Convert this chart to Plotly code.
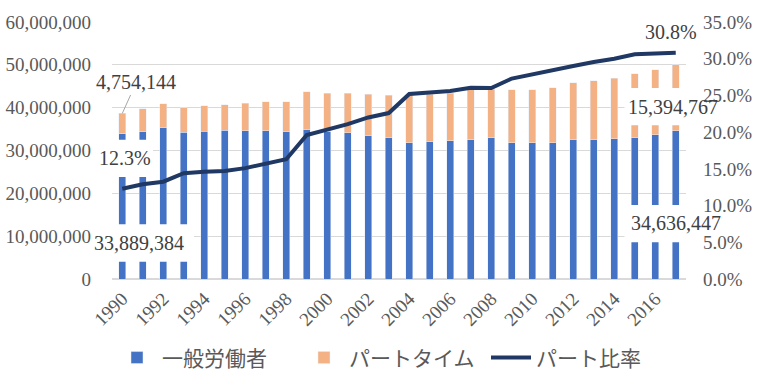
import plotly.graph_objects as go

years = list(range(1990, 2018))
general = [33889384, 34400000, 35350000, 34300000, 34500000, 34700000, 34650000,
           34600000, 34350000, 34800000, 34400000, 34200000, 33500000, 33000000,
           31850000, 32100000, 32300000, 32550000, 33000000, 31850000, 31850000,
           31800000, 32550000, 32550000, 32800000, 33000000, 33700000, 34636447]
part = [4754144, 5400000, 5550000, 5700000, 5900000, 5950000, 6400000,
        6750000, 7000000, 8900000, 9000000, 9200000, 9650000, 9900000,
        11150000, 11050000, 11100000, 11750000, 11300000, 12350000, 12350000,
        12800000, 13250000, 13750000, 14100000, 14900000, 15100000, 15394767]
ratio = [0.123, 0.129, 0.1325, 0.144, 0.146, 0.147, 0.151, 0.157, 0.163, 0.196,
         0.203, 0.211, 0.220, 0.226, 0.252, 0.254, 0.256, 0.2605, 0.260, 0.273,
         0.279, 0.285, 0.290, 0.2955, 0.300, 0.306, 0.3075, 0.308]
tick_years = list(range(1990, 2017, 2))
names = ["一般労働者", "パートタイム", "パート比率"]

FONT = "Liberation Serif, Noto Sans CJK JP, serif"
GREY = "#595959"

fig = go.Figure()
fig.add_trace(go.Bar(x=years, y=general, name=names[0], marker_color="#4472C4",
                     width=0.36))
fig.add_trace(go.Bar(x=years, y=part, name=names[1], marker_color="#F4B183",
                     width=0.36))
fig.add_trace(go.Scatter(x=years, y=ratio, name=names[2], yaxis="y2", mode="lines",
                         line=dict(color="#1F3864", width=4)))

# white label backgrounds (as in the spreadsheet chart, labels hide bars)
boxes = [
    (1989.3, 1993.5, 4.0e6, 12.8e6),
    (1989.3, 1991.5, 23.8e6, 32.5e6),
    (2014.5, 2017.6, 35.9e6, 44.6e6),
    (2014.5, 2017.6, 8.6e6, 17.3e6),
]
for x0, x1, y0, y1 in boxes:
    fig.add_shape(type="rect", xref="x", yref="y", x0=x0, x1=x1, y0=y0, y1=y1,
                  fillcolor="white", line=dict(width=0), layer="above")

total0 = general[0] + part[0]
lab_font = dict(family=FONT, size=20, color="#404040")
fig.add_annotation(x=years[0], y=total0, text=f"{part[0]:,}", showarrow=True,
                   arrowhead=0, arrowwidth=1, arrowcolor="#A6A6A6", ax=14, ay=-31,
                   font=lab_font, standoff=0)
fig.add_annotation(x=years[0], y=28.3e6, text=f"{ratio[0]*100:.1f}%", showarrow=False,
                   xshift=3, font=lab_font)
fig.add_annotation(x=years[0] + 0.83, y=8.4e6, text=f"{general[0]:,}", showarrow=False,
                   font=lab_font)
fig.add_annotation(x=years[-1], y=0.337, yref="y2", text=f"{ratio[-1]*100:.1f}%",
                   showarrow=False, xshift=-5, font=lab_font)
fig.add_annotation(x=years[-1], y=40.2e6, text=f"{part[-1]:,}", showarrow=False,
                   xshift=-3, font=lab_font)
fig.add_annotation(x=years[-1], y=13.1e6, text=f"{general[-1]:,}", showarrow=False,
                   font=lab_font)

fig.update_layout(
    width=760, height=382,
    margin=dict(l=112, r=74, t=22, b=103, autoexpand=False),
    paper_bgcolor="white", plot_bgcolor="white",
    barmode="stack",
    font=dict(family=FONT, size=19, color=GREY),
    showlegend=True,
    legend=dict(orientation="h", x=0.0, xanchor="left", y=-0.307, yanchor="middle",
                traceorder="normal", entrywidth=132, entrywidthmode="pixels",
                font=dict(family=FONT, size=21, color=GREY), itemwidth=40,
                tracegroupgap=0),
    xaxis=dict(range=[1989.5, 2017.5], tickvals=tick_years,
               ticktext=[str(t) for t in tick_years], tickangle=-45,
               showgrid=False, zeroline=False, showline=False, ticks="",
               automargin=False, ticklabelstandoff=4,
               tickfont=dict(family=FONT, size=19, color=GREY)),
    yaxis=dict(range=[0, 60e6], dtick=10e6, tickformat=",", gridcolor="#D9D9D9",
               gridwidth=1, zeroline=True, zerolinecolor="#D9D9D9", showline=False,
               ticks="", ticklabelstandoff=20, automargin=False,
               tickfont=dict(family=FONT, size=19, color=GREY)),
    yaxis2=dict(range=[0, 0.35], dtick=0.05, tickformat=".1%", overlaying="y",
                side="right", showgrid=False, zeroline=False, showline=False,
                ticks="", ticklabelstandoff=16, automargin=False,
                tickfont=dict(family=FONT, size=19, color=GREY)),
)

fig.write_html("out.html", config={"displayModeBar": False},
               post_script="document.body.style.margin='0';"
                           "document.body.style.overflow='hidden';")
